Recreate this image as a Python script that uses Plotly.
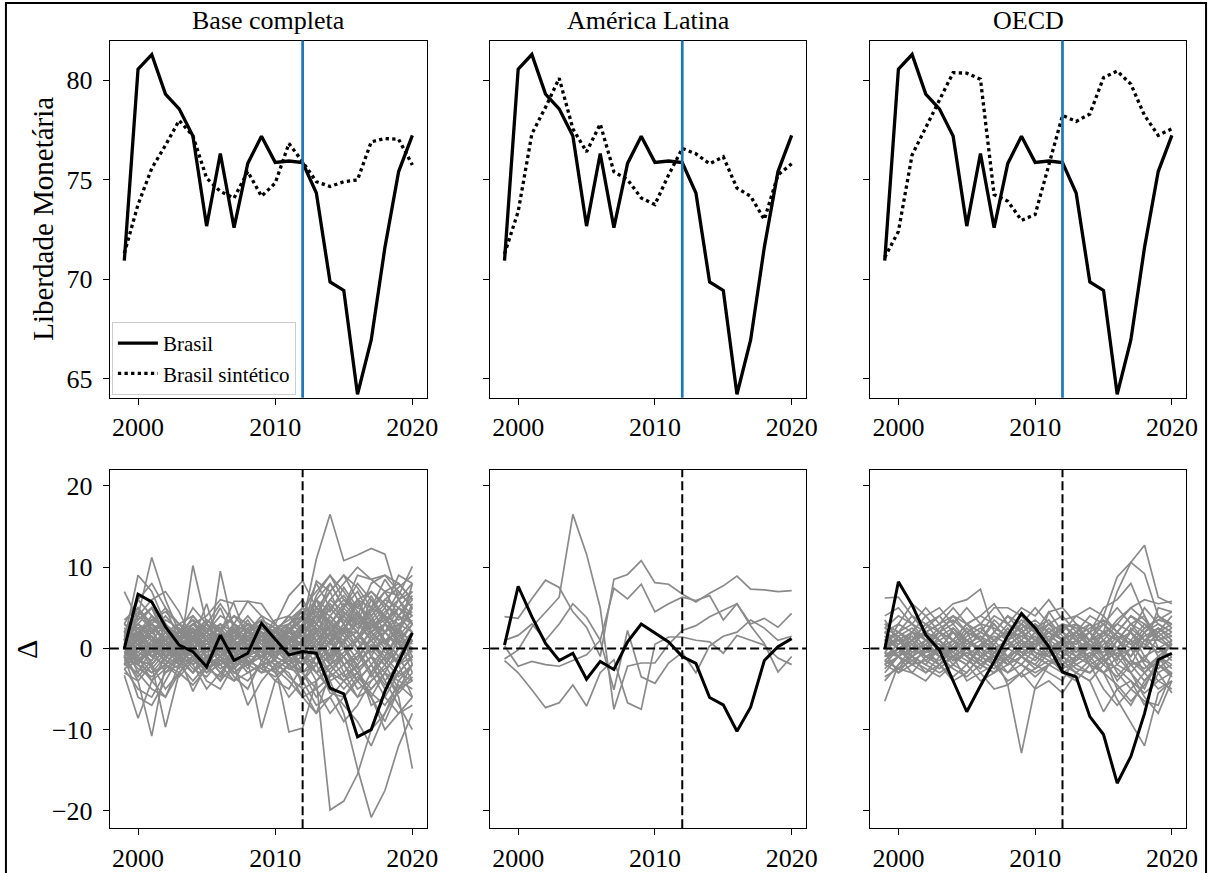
import plotly.graph_objects as go

years = list(range(1999, 2021))

panel_titles = ["Base completa", "América Latina", "OECD"]

brasil = [70.93, 80.55, 81.29, 79.30, 78.56, 77.20, 72.67, 76.32, 72.59, 75.82, 77.18,
          75.87, 75.94, 75.86, 74.33, 69.86, 69.44, 64.22, 66.95, 71.60, 75.41, 77.23]

sint_base = [71.3, 73.75, 75.57, 76.73, 77.98, 77.2, 75.08, 74.41, 74.08, 75.41, 74.17,
             74.83, 76.82, 75.9, 74.9, 74.66, 74.9, 74.99, 76.9, 77.07, 77.03, 75.74]
sint_latam = [71.27, 73.4, 77.3, 78.64, 80.1, 77.56, 76.4, 77.8, 75.4, 75.0, 74.08,
              73.75, 75.24, 76.57, 76.3, 75.8, 76.15, 74.58, 74.17, 73.0, 75.24, 75.8]
sint_oecd = [71.1, 72.4, 76.24, 77.65, 79.06, 80.38, 80.35, 80.05, 74.25, 73.92, 72.96,
             73.25, 75.74, 78.23, 77.93, 78.3, 80.13, 80.46, 79.8, 78.23, 77.23, 77.56]

gap_base = [0.0, 6.67, 5.73, 2.66, 0.4, -0.4, -2.25, 1.64, -1.5, -0.6, 3.07,
            1.2, -0.8, -0.4, -0.6, -4.9, -5.6, -10.9, -10.0, -5.3, -1.6, 1.92]
gap_latam = [0.4, 7.65, 3.9, 0.6, -1.5, -0.6, -3.8, -1.6, -2.6, 0.8, 3.0,
             1.85, 0.8, -1.0, -1.85, -6.05, -6.95, -10.2, -7.25, -1.5, 0.2, 1.2]
gap_oecd = [-0.1, 8.2, 5.35, 1.65, -0.2, -3.9, -7.8, -4.6, -1.6, 1.6, 4.3,
            2.5, 0.2, -2.9, -3.5, -8.4, -10.6, -16.6, -13.3, -8.0, -1.4, -0.6]

placebo_base = [
    [7.0, 3.5, 5.0, 1.0, 2.0, 3.5, 1.0, 2.5, 0.5, 1.5, 0.5, 2.0, 1.0, 3.0, 11.0, 16.5, 10.8, 11.5, 12.3, 11.6, 6.0, 3.0],
    [-3.3, -8.6, -4.0, -2.5, -1.0, -3.0, -1.5, -2.0, -1.0, -3.0, -2.0, -1.5, -3.5, -5.0, -4.0, -19.9, -18.8, -15.5, -10.0, -8.0, -4.0, -5.0],
    [1.0, 9.0, 7.0, 3.0, 1.5, 2.0, 3.0, 2.0, 5.8, 5.8, 4.0, 1.0, 2.0, 1.5, 4.0, 8.0, 5.0, 9.0, 8.5, 9.0, 8.0, 6.0],
    [-1.0, -4.0, -10.8, -2.0, -1.0, -5.3, -2.0, -1.0, -3.0, -2.0, -1.0, 1.5, -2.5, -3.0, -6.0, -4.0, -8.0, -14.8, -20.8, -17.5, -12.0, -8.0],
    [2.0, 4.0, 11.2, 6.0, 2.0, 1.0, 0.5, 1.0, 2.0, 1.0, 2.5, 2.0, 3.0, 2.0, 8.3, 7.0, 9.0, 7.5, 5.0, 7.0, 6.5, 10.1],
    [0.5, -1.5, -2.0, -9.7, -3.0, -1.0, -4.0, -5.0, -2.0, -7.0, -4.0, -2.0, -10.3, -9.8, -4.0, -2.0, -1.0, -3.0, -5.0, -3.0, -6.0, -14.8],
    [3.0, 2.0, 3.0, 1.0, -1.0, 10.2, 3.0, 1.0, 2.0, 1.0, 0.0, 1.5, 2.0, 1.0, 3.0, 5.0, 6.5, 4.0, 3.0, 2.0, 5.0, 4.0],
    [-0.5, 1.0, 2.0, 3.0, 1.0, 0.0, -2.0, 9.5, 2.0, 0.5, 1.5, 0.0, 3.0, 4.0, 6.0, 2.0, 1.0, 4.0, 8.0, 9.0, 7.0, 5.0],
    [1.5, 0.0, -1.0, 0.5, 2.0, 1.0, 5.5, 0.0, 3.0, 5.8, 5.5, 3.0, 6.5, 8.3, 5.0, 7.0, 3.0, 6.0, 7.0, 5.0, 2.0, 8.0],
    [-2.0, -3.0, 0.0, -1.0, -2.0, -1.0, -3.0, -1.0, -2.0, -1.5, -9.8, -4.0, -2.0, -3.0, -5.0, -8.0, -6.0, -4.0, -6.0, -10.0, -8.0, -6.0],
    [0.0, 2.0, 1.0, -1.0, 1.0, 2.0, 0.0, 1.0, -1.0, 0.0, 1.0, 0.5, 0.0, 1.0, 2.0, 0.0, -2.0, -1.0, 1.0, 3.0, 2.0, 1.0],
    [2.5, 1.0, 3.0, 2.0, 0.0, -1.0, 1.0, -1.0, 0.0, 1.0, 2.0, 1.0, -1.0, 0.0, -3.0, -2.0, 1.0, 2.0, -1.0, -2.0, 0.0, 2.0],
    [-1.5, -2.0, -3.0, -1.0, 0.5, -2.0, -1.0, -3.0, -1.0, -2.0, 0.0, -1.0, 0.0, -2.0, -1.0, -4.0, -3.0, -6.0, -5.0, -3.0, -4.0, -2.0],
    [1.0, 3.0, 2.0, 4.0, 2.0, 3.0, 2.0, 4.0, 3.0, 2.0, 3.0, 2.0, 1.0, 3.0, 5.0, 4.0, 6.0, 5.0, 4.0, 6.0, 5.0, 3.0],
    [-0.5, 0.5, -1.0, 1.0, -1.0, 0.5, -2.0, 0.0, 1.0, -1.0, 0.0, -1.0, 1.0, 0.5, -2.0, 1.0, 3.0, 0.0, -3.0, -1.0, 2.0, -1.0],
    [2.0, 5.0, 3.0, 1.0, 3.0, 4.0, 2.0, 5.0, 1.0, 3.0, 1.0, 2.5, 3.5, 5.0, 7.0, 9.0, 6.0, 4.0, 2.0, 3.0, 6.0, 7.0],
    [-2.5, -5.0, -6.0, -3.0, -2.0, -1.0, -3.0, -2.0, -4.0, -3.0, -2.0, -3.0, -1.0, -4.0, -7.0, -6.0, -9.0, -7.0, -4.0, -2.0, -5.0, -3.0],
    [0.5, 2.0, 4.0, 2.5, 1.0, -1.0, 0.0, 2.0, 0.0, 1.0, -0.5, 1.0, 2.0, 0.0, 1.0, 3.0, 2.0, 0.0, 2.0, 4.0, 1.0, 0.0],
    [1.0, -2.0, 0.0, 2.0, 0.0, 1.0, 3.0, 1.0, -1.0, 2.0, 1.0, 0.0, 2.0, 2.0, 4.0, 2.0, 0.0, -2.0, 0.0, 1.0, -1.0, 1.0],
    [-1.0, 1.0, -2.0, 0.0, -1.5, -3.0, -1.0, 0.0, -2.0, 0.0, -1.0, -2.0, -1.0, 0.0, 3.0, 1.0, -2.0, -4.0, -2.0, 0.0, 3.0, -2.0],
    [3.0, 6.0, 8.0, 5.0, 3.0, 2.0, 1.0, 3.0, 2.0, 4.0, 2.0, 1.0, 2.0, 4.0, 3.0, 6.0, 8.0, 10.0, 8.5, 7.0, 4.0, 6.0],
    [-1.0, -6.0, -7.0, -4.0, -1.0, -2.0, -5.0, -3.0, -1.0, -2.0, -3.0, -1.0, -2.0, -1.0, -3.0, -5.0, -7.0, -9.0, -12.0, -8.0, -5.0, -4.0],
    [0.0, 1.0, 0.0, 2.0, 3.0, 1.0, 2.0, 0.0, 2.0, 3.0, 1.5, 3.0, 1.0, 2.0, 1.0, -1.0, 2.0, 3.0, 5.0, 2.0, 3.0, 4.0],
    [2.0, -1.0, 1.0, -2.0, 0.0, -2.0, 0.0, -1.0, 1.0, -2.0, -1.0, 0.0, -1.0, -2.0, 0.0, -3.0, -5.0, -3.0, -1.0, -4.0, -2.0, 0.0],
    [-2.0, 0.0, 2.0, 0.0, -2.0, 0.0, 1.0, -2.0, 0.0, -1.0, 2.0, -1.0, 0.0, 1.0, -1.0, 2.0, 4.0, 2.0, 0.0, -2.0, 1.0, 3.0],
    [1.5, 4.0, 6.0, 7.0, 4.5, 1.0, 0.0, -1.0, 1.0, 0.0, 1.0, 0.0, 1.5, -1.0, 2.0, 5.0, 3.0, 1.0, 3.0, 5.0, 9.0, 8.0],
    [0.5, -3.0, -5.0, -6.0, -2.0, 0.0, -2.0, -4.0, -2.0, 0.0, -1.0, -2.0, -3.0, -6.0, -8.0, -3.0, -4.0, -2.0, -7.0, -6.0, -3.0, -1.0],
    [1.0, 2.0, 1.0, 0.0, 2.0, 5.0, 3.0, 2.0, 0.0, 1.0, 0.0, 2.0, 4.0, 6.0, 3.0, 1.0, 5.0, 7.0, 4.0, 1.0, -1.0, 2.0],
    [-1.0, 0.0, 3.0, 1.0, 0.0, -1.0, -2.0, 1.0, 3.0, 0.0, -1.0, 1.0, 0.0, -3.0, -1.0, 1.0, -1.0, -3.0, -1.0, 2.0, 4.0, 3.0],
    [0.0, -1.0, -3.0, -2.0, 0.5, 1.0, -1.0, -2.0, -1.0, -3.0, -2.0, 0.0, -2.0, 0.0, 2.0, -1.0, 0.0, 1.0, -2.0, -5.0, -3.0, -1.0],
    [2.0, 3.0, 5.0, 3.0, 1.0, 0.0, 2.0, 0.0, 1.0, 2.0, 3.0, 1.0, 0.0, -1.0, 5.0, 3.0, 2.0, 6.0, 3.0, 1.0, 2.0, 5.0],
    [-1.0, 2.0, 0.0, -3.0, -1.0, 0.0, 2.0, 3.0, 1.0, -1.0, 0.0, 2.0, 1.0, -5.0, -8.0, -6.0, -4.0, -3.0, -6.0, -9.0, -5.0, -2.0],
    [0.0, -2.0, -4.0, -1.0, 1.0, 2.0, -1.0, -3.0, -4.0, -1.0, 1.0, -1.0, 1.0, 3.0, 4.0, 1.0, -3.0, -1.0, 1.0, -1.0, -3.0, -4.0],
    [1.0, 0.0, 2.0, 3.0, -1.0, -3.0, 0.0, 2.0, 1.0, 3.0, 2.0, 0.0, 3.0, 5.0, 2.0, 4.0, 2.0, 2.0, 6.0, 4.0, 7.0, 5.0],
    [-0.5, 1.0, -1.0, -2.0, -3.0, -1.0, 0.0, -1.0, 2.0, 1.0, -1.0, -2.0, -1.0, 1.0, 0.0, -2.0, -4.0, -6.0, -3.0, 0.0, -2.0, -6.0],
    [0.5, 3.0, 1.0, 1.0, 0.0, 2.0, -1.0, 0.0, -1.0, -2.0, 0.0, 1.0, 0.0, 1.0, 6.0, 8.0, 5.0, 3.0, 1.0, 2.0, 0.0, 1.0],
    [-2.0, -1.0, 1.0, -1.0, 1.0, -1.0, -2.0, 0.5, -1.0, 1.0, 1.0, -1.0, -2.0, -4.0, -2.0, 0.0, -1.0, 1.0, 3.0, 1.0, -2.0, -1.0],
    [1.0, 6.0, 4.0, 2.0, -1.0, 1.0, 1.0, -1.0, 1.0, -1.0, -1.0, 2.0, 0.0, 2.0, -1.0, -3.0, -1.0, 1.0, 0.0, 3.0, 5.0, 3.0],
    [2.0, 4.5, 3.0, 5.0, 1.0, 3.0, 4.0, 6.0, 5.5, 1.0, 0.0, -1.0, 2.0, 4.0, 8.0, 5.0, 3.0, 1.0, 5.0, 8.5, 6.0, 8.0],
    [-1.0, -2.0, 1.0, 3.0, -2.0, -4.0, -2.0, 0.0, -3.0, -4.0, -2.0, -4.0, -5.0, -2.0, 1.0, -1.0, 2.0, 0.0, -3.0, -6.0, -8.0, -7.0],
    [0.0, 1.0, 4.0, 2.0, 1.0, 4.0, 2.0, 1.0, 3.0, 2.0, 4.0, 3.0, 1.0, 2.0, 0.0, 3.0, 5.0, 8.0, 6.0, 3.0, 1.0, 0.0],
    [1.0, -1.0, -4.0, -6.0, -3.0, -1.0, 0.0, -1.0, 1.0, 2.0, 0.0, -3.0, -6.0, -4.0, -1.0, 2.0, 4.0, 2.0, -1.0, -4.0, -7.0, -10.0],
    [-2.0, 2.0, -1.0, 1.0, 2.0, 0.0, -2.0, -4.0, 0.0, 2.0, 1.0, -1.0, 1.0, 3.0, 6.0, 3.0, 0.0, -3.0, -6.0, -3.0, 0.0, 2.0],
    [3.0, 1.0, -2.0, 0.0, 1.0, 3.0, 1.0, 0.0, -1.0, 0.0, 2.0, 1.0, 2.0, 5.0, 4.0, 7.0, 9.0, 6.0, 2.0, 0.0, -2.0, 0.0],
    [0.5, 1.5, -0.5, 2.0, 1.0, 2.5, 1.0, 3.0, 2.0, 0.5, 1.0, 2.5, 2.0, 3.5, 4.5, 2.5, 4.0, 6.0, 5.0, 4.0, 3.0, 2.0],
    [-1.0, 0.5, 2.5, 1.0, -0.5, 1.5, -1.0, -2.5, -1.5, 0.5, -0.5, 0.5, -1.5, -0.5, 1.5, 3.5, 1.5, -0.5, 2.5, 4.5, 6.0, 4.0],
    [2.0, 2.5, 0.0, -1.5, 2.0, 0.5, 2.5, 1.5, -0.5, 2.5, 0.5, -0.5, 1.0, 1.5, -0.5, 2.0, 0.5, 3.5, 1.0, -1.5, -3.5, -2.0],
    [-2.5, -1.5, -2.0, 0.0, -0.5, -2.5, -3.5, -1.5, -2.5, -1.0, -3.0, -2.5, -1.5, -3.0, -2.0, -1.0, -3.5, -2.0, 0.5, -1.5, 1.0, -3.0],
    [1.0, 3.5, 5.0, 2.0, 0.0, 2.0, 3.5, 2.5, 4.0, 3.0, 1.5, 3.5, 4.0, 2.5, 6.0, 4.5, 7.5, 5.0, 7.0, 5.5, 4.0, 6.5],
    [0.0, -0.5, 1.5, -0.5, 1.5, -0.5, 0.5, 1.5, -0.5, -1.0, 1.0, 0.0, -0.5, 1.0, 2.0, -2.0, -0.5, 1.5, 3.5, 2.0, 0.5, -1.5],
    [3.5, 5.0, 2.0, 3.5, 2.5, 1.0, 3.0, 5.5, 3.0, 1.0, 2.5, 1.5, 2.5, 1.5, 3.5, 6.0, 4.5, 3.0, 4.5, 7.0, 8.0, 6.0],
    [-3.0, -4.0, -2.0, -5.0, -3.0, -4.5, -2.5, -1.0, -3.5, -5.0, -1.5, -2.5, -4.0, -6.0, -5.0, -3.5, -2.0, -5.0, -4.0, -2.5, -1.0, -4.0],
    [1.5, -0.5, -1.5, 1.5, 0.5, 3.0, 1.5, -0.5, 1.5, 2.5, 3.5, 0.5, 2.5, 0.0, 2.5, 0.5, 2.5, 4.5, 2.0, 0.5, 4.0, 2.0],
    [0.0, 2.5, 3.0, 0.5, -1.5, -0.5, -1.5, 0.5, 2.5, 0.5, -1.5, 1.5, 3.0, 4.5, 3.0, 5.5, 3.5, 2.0, -0.5, 1.0, 2.0, -0.5],
    [-0.5, -2.5, -3.5, -2.0, -3.5, -1.5, -2.5, -3.5, 0.5, -1.5, -2.5, -0.5, 0.5, -1.0, -4.0, -2.5, -1.0, -4.0, -2.0, -4.5, -3.0, -1.0],
    [2.5, 1.5, 3.5, 4.5, 3.0, 1.5, 3.5, 2.0, 4.0, 2.0, 3.5, 2.5, 3.0, 4.0, 2.5, 0.5, 3.0, 1.0, 3.5, 5.5, 3.5, 4.5],
    [-1.5, 0.0, 0.5, -1.5, -2.5, 1.0, -0.5, 1.0, -0.5, -2.5, 0.0, -1.5, -2.5, -1.5, 0.5, 2.0, -2.0, -0.5, -3.5, -1.0, 1.5, 0.0],
    [0.5, 4.0, 2.5, -1.0, 1.5, 2.5, 0.0, -1.5, 0.5, 1.5, -0.5, 2.5, 0.5, 2.5, 5.0, 3.0, 5.5, 3.5, 6.5, 3.5, 5.0, 7.0],
    [1.0, -1.5, -0.5, 0.5, -0.5, -1.5, 1.5, 2.5, 0.5, -0.5, 2.5, 1.5, -0.5, 3.0, 1.0, -1.5, 1.0, -1.5, 1.5, -0.5, -1.5, 1.0],
    [-2.0, 1.5, 3.5, 2.5, 0.5, -0.5, -1.5, 0.5, -2.5, -0.5, 1.5, -0.5, 1.5, -1.5, -3.0, -0.5, 2.5, 4.0, 1.5, 3.0, 0.5, 3.0],
    [2.0, 0.5, -2.5, -0.5, 2.5, 0.0, 2.0, 0.5, 1.5, 3.5, 1.0, 2.0, 4.0, 2.0, 6.5, 9.0, 7.0, 4.5, 2.5, 4.0, 1.5, 3.5],
    [-0.5, -1.5, 0.5, 1.0, -1.0, 0.5, -2.5, -1.5, -3.0, -1.5, -2.5, -3.5, -2.0, -1.0, -2.0, -5.5, -6.0, -3.5, -5.5, -7.0, -4.5, -6.0],
    [0.5, 2.0, 0.0, 2.5, 0.5, 1.5, 3.0, 0.5, 2.5, 0.0, 2.0, 1.5, 0.5, 2.0, 0.0, 4.0, 2.0, 5.5, 3.5, 0.5, 2.5, 0.5],
    [1.5, 3.0, 1.5, -1.0, -0.5, 1.5, 0.5, 2.0, -0.5, 2.5, 0.5, -1.5, 2.5, 3.5, 2.5, 0.5, 4.5, 2.5, 4.0, 6.0, 7.5, 9.0],
    [-1.0, -3.5, -1.5, 0.5, -1.5, 2.5, -1.5, -0.5, 1.5, 0.5, -1.5, 0.5, -0.5, -2.0, 1.0, 2.5, 0.5, -2.5, -1.0, -3.0, -5.5, -3.5],
    [0.0, 1.0, 1.5, 0.0, 2.0, 3.5, 2.5, 1.0, 0.5, 1.5, 2.5, 1.0, 1.5, 0.5, 3.0, 1.5, 2.5, 4.5, 2.5, 3.5, 2.0, 5.5],
]

placebo_latam = [
    [-1.3, -0.2, 2.6, 4.5, 6.3, 16.5, 11.6, 5.0, -7.5, -2.2, -1.8, -1.8, 0.5, 2.2, 2.8, 3.9, 4.7, 5.5, 3.0, 3.7, 2.6, 4.3],
    [3.9, 3.7, 6.1, 8.4, 7.5, 4.5, 2.6, -1.0, 8.5, 9.1, 10.8, 8.1, 7.9, 6.7, 5.7, 6.8, 7.7, 8.9, 7.3, 7.2, 7.0, 7.1],
    [1.0, 1.6, 3.0, 1.0, 3.0, 5.5, 3.8, 1.0, 7.4, 6.1, 7.9, 4.5, 5.5, 6.3, 5.9, 6.5, 3.5, 5.5, 2.8, 0.6, -2.9, -1.0],
    [-1.5, -3.0, -5.1, -7.3, -6.7, -4.5, -7.1, -3.0, -1.4, -6.7, -7.5, 0.5, 1.4, 1.4, 1.0, 0.8, -0.6, 1.6, 1.0, 0.4, -1.2, -2.0],
    [0.3, -2.2, -1.6, -2.0, -2.2, -1.5, -0.8, 1.0, -5.1, 2.2, -3.5, -4.3, -1.8, -0.5, -3.0, 0.3, 1.5, 2.0, 3.5, 2.5, 1.0, 1.5],
]

placebo_oecd = [
    [1.0, 2.0, 3.0, 1.0, -1.0, 0.0, 2.0, 1.0, 0.0, 1.0, 2.0, 1.0, 0.0, 1.0, 2.0, 1.0, 4.0, 8.8, 10.6, 12.7, 6.3, 5.5],
    [-1.0, 0.0, 1.0, 2.0, 1.0, -1.0, 0.0, -2.0, -1.0, 0.0, -1.0, 1.0, 0.0, -1.0, -2.0, -1.0, 2.0, 7.0, 10.6, 9.2, 4.0, 3.0],
    [0.5, -1.0, -2.0, 0.0, 1.0, 2.0, 1.0, 0.0, -1.0, -4.5, -12.9, -4.8, -2.0, -1.0, 0.0, -2.0, -3.0, -6.3, -9.2, -12.0, -5.5, -4.0],
    [6.2, 6.3, 4.0, 2.0, 3.0, 5.0, 3.0, 2.0, 1.0, 3.0, 5.0, 4.0, 6.0, 3.5, 4.0, 3.0, 2.0, 3.0, 5.0, 6.0, 5.5, 5.8],
    [-6.5, -2.0, -1.0, -3.0, -2.0, -1.0, -4.0, -3.0, -5.0, -4.5, -3.0, -5.0, -4.0, -5.5, -3.0, -4.0, -7.8, -5.0, -4.0, -7.0, -3.0, -5.5],
    [2.0, 1.0, 0.0, 2.5, 4.0, 5.5, 6.0, 7.3, 2.0, 1.0, 3.0, 2.0, 4.5, 2.0, 0.0, 1.0, 3.0, 5.0, 3.0, 1.0, 2.0, 4.0],
    [-2.0, -3.0, -1.0, 0.0, -2.0, -3.5, -2.0, 0.0, 2.0, 4.0, 3.0, 1.0, -1.0, -3.0, -2.0, -1.0, 0.0, -3.0, -5.0, -6.5, -7.0, -3.0],
    [0.0, 3.0, 5.5, 4.0, 2.0, 0.0, -1.0, -2.0, -3.0, -1.0, 0.0, 2.0, 3.0, 2.0, 1.0, 3.0, 1.0, -1.0, 0.0, 2.0, 4.0, 2.5],
    [1.5, 0.0, -2.0, -3.0, -1.0, 1.0, 3.0, 4.0, 3.0, 1.0, -1.0, -2.0, 0.0, 1.0, 3.0, 2.0, -1.0, -4.0, -2.0, 1.0, 0.0, -1.0],
    [-3.0, -1.0, 1.0, 3.0, 4.0, 2.0, 0.0, 1.0, -1.0, -2.0, 0.0, 1.0, 2.0, 0.0, -1.0, 0.0, 2.0, 1.0, 3.0, 4.0, 1.0, 0.0],
    [3.0, 2.0, 1.0, -1.0, -2.0, 0.0, 2.0, 3.0, 5.0, 5.0, 4.0, 2.0, 1.0, 0.0, -2.0, -3.0, -1.0, 0.0, -2.0, -4.0, -2.0, 1.0],
    [-1.5, -2.5, -3.0, -1.0, 0.0, 1.0, -1.0, -3.0, -2.0, 0.0, 2.0, 3.0, 1.0, -2.0, -3.0, -4.0, -2.0, 1.0, 2.0, -1.0, -3.0, -2.0],
    [0.5, 1.0, 2.0, 0.0, -1.0, -1.0, 1.0, 2.0, 1.0, 2.0, 1.5, 0.5, 1.0, 2.5, 3.0, 1.0, 0.0, 2.0, 4.0, 3.0, 1.0, 1.5],
    [-0.5, -1.0, 0.0, 1.0, 0.0, -2.0, -3.0, -1.0, 0.0, -1.0, -2.0, 0.0, -1.0, 0.0, 1.0, 0.0, 1.0, -2.0, -3.0, -1.0, 0.0, -1.5],
    [2.5, 4.0, 3.0, 5.0, 3.0, 1.0, 0.0, -1.0, 1.0, 2.0, 3.0, 5.0, 3.0, 1.0, 2.0, 4.0, 3.0, 1.0, -1.0, 2.0, 3.0, 2.0],
    [-2.5, -1.0, -3.0, -4.0, -2.0, 0.0, 1.0, 0.0, -2.0, -3.0, -1.0, -2.0, -3.0, -4.0, -1.0, 1.0, -1.0, -5.0, -7.0, -4.0, -2.0, -3.0],
    [1.0, -1.0, 1.0, 2.0, 3.0, 4.0, 2.0, -1.0, -2.0, 0.0, 1.0, 0.0, 2.0, 1.0, 0.0, -1.0, 1.0, 3.0, 2.0, 0.0, 5.0, 4.5],
    [0.0, 1.5, -1.0, -2.0, -3.0, -2.0, 0.0, 2.0, 4.0, 3.0, 1.0, -1.0, -2.0, -1.0, 1.0, 2.0, 0.0, -1.0, 1.0, -2.0, -4.0, -5.0],
    [-1.0, 0.5, 2.0, 4.0, 5.0, 3.0, 1.0, 0.0, 2.0, 4.0, 2.0, 0.0, -1.0, 1.0, 2.0, 0.0, -2.0, 0.0, 2.0, 5.0, 3.0, 2.0],
    [2.0, 0.0, -1.0, 1.0, 2.0, 3.0, 5.0, 3.0, 0.0, -2.0, -1.0, 1.0, 3.0, 4.0, 2.0, 1.0, 2.0, 0.0, -3.0, -5.0, -1.0, 0.5],
    [-4.0, -2.0, 0.0, -1.0, -2.0, -4.0, -3.0, -1.0, -2.0, -4.0, -3.0, -1.0, -2.0, -3.0, -4.0, -2.0, -3.0, -2.0, 0.0, -3.0, -5.0, -4.0],
    [4.0, 5.0, 3.0, 2.0, 0.0, 1.0, 3.0, 4.0, 5.5, 3.0, 2.0, 3.0, 1.0, 2.0, 4.0, 5.0, 4.0, 2.0, 1.0, 3.0, 2.0, 3.0],
    [-0.5, -3.0, -2.0, 0.0, 2.0, 1.0, -1.0, -2.0, -1.0, 1.0, 3.0, 2.0, 0.0, -2.0, 0.0, -1.0, -3.0, -1.0, 1.0, 0.0, 2.0, 0.5],
    [1.0, 2.0, 4.0, 3.0, 1.0, -1.0, -2.0, 0.0, 1.0, -1.0, 0.0, -1.0, 1.0, 3.0, 1.0, -2.0, -1.0, 1.0, 3.0, 2.0, -1.0, -2.5],
    [-1.5, 0.0, 1.0, -1.0, -1.5, 0.0, 2.0, 1.0, 3.0, 1.0, -1.0, 0.0, 4.5, 5.0, 3.0, 0.0, 1.0, 0.0, -1.0, 1.0, 1.0, 2.0],
    [0.5, 2.0, 1.0, 3.0, 2.0, 4.0, 3.0, 1.0, -1.0, -3.0, -2.0, -3.5, -2.0, 0.0, 2.0, 3.0, 1.0, -1.0, -3.0, -6.0, -8.0, -4.0],
    [3.5, 1.0, -1.0, -2.0, 0.0, 2.0, 0.0, -2.0, -3.0, -2.0, 0.0, 2.0, 0.0, 1.0, 0.5, 2.0, 5.0, 6.0, 8.0, 4.0, 0.0, 1.0],
    [-2.0, 0.0, -1.0, 1.0, 0.5, -1.0, -2.0, -4.0, -3.0, -1.0, 1.0, 3.0, 2.0, 1.0, -1.0, -2.0, -5.0, -7.0, -5.0, -3.0, -1.0, -3.5],
    [0.0, 1.0, -0.5, 0.5, 2.0, 1.0, -1.0, 0.5, 1.5, 0.5, -0.5, 0.5, 1.5, 0.5, -0.5, 1.0, 2.0, 1.0, 0.0, 1.5, 2.5, 1.0],
    [1.5, 0.5, 1.5, -0.5, 0.0, -1.5, 0.5, 1.5, 0.5, -1.5, 0.5, 1.5, -0.5, 1.0, 2.0, 0.5, -1.0, 0.0, 2.0, 0.5, -0.5, 0.5],
    [-1.0, -0.5, 0.5, -1.5, -2.5, -1.0, -2.0, 0.5, -0.5, 1.0, -0.5, -1.5, 0.5, -0.5, -1.5, -0.5, -2.0, -3.5, -1.5, -2.5, -1.0, -2.0],
    [2.0, 3.0, 2.0, 1.0, 2.5, 3.5, 2.0, 3.0, 2.5, 1.5, 2.5, 3.5, 2.0, 3.0, 1.5, 2.5, 3.5, 2.0, 4.0, 2.5, 3.5, 3.0],
    [-2.0, -1.0, -2.0, -1.5, 0.0, -0.5, -1.5, -2.5, -0.5, -2.0, -1.0, -2.5, -1.5, -2.0, -1.0, 0.5, -1.5, -0.5, -2.0, -1.5, -2.5, -1.0],
    [0.5, -1.0, 2.0, 1.5, -0.5, 2.5, 1.0, -0.5, -1.5, 1.5, 2.5, -0.5, -1.0, 0.5, 1.5, -1.5, 0.5, 2.0, 0.5, -1.5, 1.5, 0.0],
    [3.0, 2.0, 0.5, 2.0, 1.0, -0.5, 1.5, 2.5, 1.0, 2.0, 3.5, 2.0, 0.5, 3.0, 2.5, 1.0, 1.5, 3.5, 5.0, 3.5, 1.5, 2.5],
    [-3.5, -2.5, -1.5, -2.5, -3.5, -2.0, -0.5, -1.5, -2.5, -1.0, -2.0, -3.0, -2.0, -1.0, -2.5, -3.0, -1.5, -2.5, -4.0, -5.5, -4.0, -3.0],
    [1.0, 0.0, -1.5, -0.5, 1.5, 2.5, 0.5, 1.5, -0.5, 0.5, 1.5, 2.5, 3.5, 1.5, 0.5, 2.0, 3.0, 1.5, 0.5, 2.5, 3.5, 4.5],
    [-0.5, 1.5, 2.5, 1.0, 0.5, -1.5, -0.5, -1.5, 0.5, 2.5, 0.5, -0.5, -1.5, -2.5, -1.5, 0.5, -0.5, 1.5, -1.5, -3.0, -1.5, 0.5],
    [2.5, 1.5, 0.0, -1.0, -0.5, 0.5, 2.5, 1.0, 3.5, 2.0, 0.0, 0.5, 2.5, 1.0, 3.0, 2.0, 0.0, -1.5, 2.5, 1.0, 2.5, 1.5],
    [-1.5, -2.5, -0.5, 0.5, -1.0, -2.5, -3.5, -2.0, -0.5, -1.5, -3.5, -2.5, -0.5, -1.5, -3.0, -1.5, -3.0, -4.5, -6.5, -4.5, -2.0, -3.5],
]

treat_year = 2012
x_ticks = [2000, 2010, 2020]
top_ticks = [65, 70, 75, 80]
bot_ticks = [-20, -10, 0, 10, 20]
bot_ticktext = ["\u221220", "\u221210", "0", "10", "20"]

W, H = 1223, 873
FONT = "Liberation Serif, Times New Roman, serif"

col_px = [(111, 431), (495, 814), (879, 1198)]
row_px = [(41, 402), (475, 837)]

synths = [sint_base, sint_latam, sint_oecd]
gaps = [gap_base, gap_latam, gap_oecd]
placebos = [placebo_base, placebo_latam, placebo_oecd]

fig = go.Figure()


def axname(i, kind):
    return kind if i == 1 else f"{kind}{i}"


# top row
for c in range(3):
    i = c + 1
    xa, ya = axname(i, "x"), axname(i, "y")
    fig.add_trace(go.Scatter(x=years, y=brasil, mode="lines", name="Brasil",
                             line=dict(color="black", width=3.3),
                             showlegend=(c == 0), xaxis=xa, yaxis=ya))
    fig.add_trace(go.Scatter(x=years, y=synths[c], mode="lines", name="Brasil sintético",
                             line=dict(color="black", width=3.3, dash="dot"),
                             showlegend=(c == 0), xaxis=xa, yaxis=ya))

# bottom row
for c in range(3):
    i = c + 4
    xa, ya = f"x{i}", f"y{i}"
    for p in placebos[c]:
        fig.add_trace(go.Scatter(x=years, y=p, mode="lines", showlegend=False,
                                 line=dict(color="#8a8a8a", width=1.7),
                                 xaxis=xa, yaxis=ya, hoverinfo="skip"))
    fig.add_trace(go.Scatter(x=years, y=gaps[c], mode="lines", showlegend=False,
                             line=dict(color="black", width=3),
                             xaxis=xa, yaxis=ya))

axis_common = dict(showline=True, linecolor="black", linewidth=1.2, mirror=True,
                   ticks="outside", ticklen=6, tickwidth=1.2, tickcolor="black",
                   showgrid=False, zeroline=False,
                   tickfont=dict(family=FONT, size=26, color="black"))

layout = {}
shapes = []
annotations = []
for r in range(2):
    for c in range(3):
        i = r * 3 + c + 1
        x0, x1 = col_px[c]
        y0, y1 = row_px[r]
        xd = [x0 / W, x1 / W]
        yd = [1 - y1 / H, 1 - y0 / H]
        xk = axname(i, "xaxis")
        yk = axname(i, "yaxis")
        layout[xk] = dict(axis_common, domain=xd, range=[1997.95, 2021.05],
                          tickvals=x_ticks, anchor=axname(i, "y"))
        if r == 0:
            layout[yk] = dict(axis_common, domain=yd, range=[64.04, 81.99],
                              tickvals=top_ticks, anchor=axname(i, "x"),
                              showticklabels=(c == 0), ticklabelstandoff=5)
            shapes.append(dict(type="line", xref=axname(i, "x"), yref=f"{axname(i, 'y')} domain",
                               x0=treat_year, x1=treat_year, y0=0, y1=1,
                               line=dict(color="#1f77b4", width=2.7), layer="above"))
        else:
            layout[yk] = dict(axis_common, domain=yd, range=[-22.16, 21.95],
                              tickvals=bot_ticks, ticktext=bot_ticktext,
                              anchor=axname(i, "x"), showticklabels=(c == 0),
                              ticklabelstandoff=5)
            shapes.append(dict(type="line", xref=axname(i, "x"), yref=f"{axname(i, 'y')} domain",
                               x0=treat_year, x1=treat_year, y0=0, y1=1,
                               line=dict(color="black", width=2, dash="9px,4px"), layer="above"))
            shapes.append(dict(type="line", xref=f"{axname(i, 'x')} domain", yref=axname(i, "y"),
                               x0=0, x1=1, y0=0, y1=0,
                               line=dict(color="black", width=2, dash="9px,4px"), layer="above"))
        if r == 0:
            annotations.append(dict(text=panel_titles[c], xref="paper", yref="paper",
                                    x=(x0 + x1) / 2 / W, y=1 - 21 / H, xanchor="center",
                                    yanchor="middle", showarrow=False,
                                    font=dict(family=FONT, size=26, color="black")))

annotations.append(dict(text="Liberdade Monetária", xref="paper", yref="paper",
                        x=44 / W, y=1 - 221.5 / H, textangle=-90, showarrow=False,
                        xanchor="center", yanchor="middle",
                        font=dict(family=FONT, size=29, color="black")))
annotations.append(dict(text="Δ", xref="paper", yref="paper",
                        x=27 / W, y=1 - 656 / H, textangle=-90, showarrow=False,
                        xanchor="center", yanchor="middle",
                        font=dict(family=FONT, size=30, color="black")))

# outer frame
shapes.append(dict(type="rect", xref="paper", yref="paper",
                   x0=6 / W, x1=1218 / W, y0=-0.05, y1=1 - 3 / H,
                   line=dict(color="black", width=2), fillcolor="rgba(0,0,0,0)", layer="above"))

fig.update_layout(
    width=W, height=H, margin=dict(l=0, r=0, t=0, b=0),
    paper_bgcolor="white", plot_bgcolor="white",
    shapes=shapes, annotations=annotations,
    legend=dict(x=113 / W, y=1 - 399 / H, xanchor="left", yanchor="bottom",
                bgcolor="rgba(255,255,255,0.85)", bordercolor="#cccccc", borderwidth=1,
                font=dict(family=FONT, size=21, color="black"), tracegroupgap=0,
                itemwidth=40),
    **layout,
)

fig.write_html("out.html")
